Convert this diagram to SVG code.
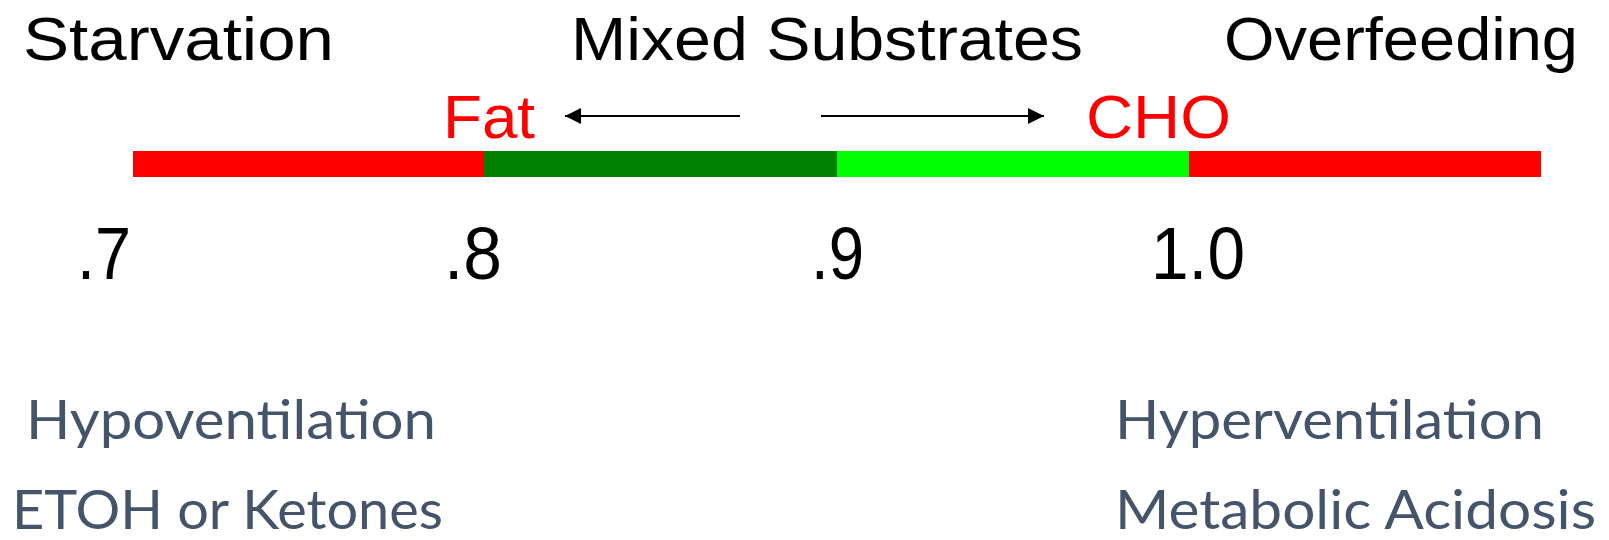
<svg xmlns="http://www.w3.org/2000/svg" width="1609" height="540" viewBox="0 0 1609 540">
<defs>
<style>
.g{font-family:"Liberation Sans",Arial,sans-serif;fill:#000}
.t{font-size:62px}
.r{fill:#FF0000}
.n{font-size:74px}
.c{font-family:Lato,"Open Sans",sans-serif;font-size:54px;fill:#44546A}
.ar{stroke:#000;stroke-width:2;fill:none}
</style>
<marker id="ah" viewBox="0 0 16 16" refX="16" refY="8" markerWidth="16" markerHeight="16" markerUnits="userSpaceOnUse" orient="auto">
<path d="M0,0 L16,8 L0,16 Z" fill="#000"/>
</marker>
</defs>
<rect width="1609" height="540" fill="#fff"/>
<g id="titles">
<text class="g t" x="23" y="60" textLength="311" lengthAdjust="spacingAndGlyphs">Starvation</text>
<text class="g t" x="571" y="60" textLength="512" lengthAdjust="spacingAndGlyphs">Mixed Substrates</text>
<text class="g t" x="1224" y="60" textLength="354" lengthAdjust="spacingAndGlyphs">Overfeeding</text>
</g>
<g id="fat"><text class="g t r" x="443" y="138" textLength="92" lengthAdjust="spacingAndGlyphs">Fat</text></g>
<g id="cho"><text class="g t r" x="1086" y="138" textLength="145" lengthAdjust="spacingAndGlyphs">CHO</text></g>
<g id="connectors">
<line class="ar" x1="740" y1="116" x2="565" y2="116" marker-end="url(#ah)"/>
<line class="ar" x1="821" y1="116" x2="1044" y2="116" marker-end="url(#ah)"/>
</g>
<g id="bar">
<rect x="133" y="151" width="351" height="26" fill="#FF0000"/>
<rect x="484" y="151" width="353" height="26" fill="#008000"/>
<rect x="837" y="151" width="352" height="26" fill="#00FF00"/>
<rect x="1189" y="151" width="352" height="26" fill="#FF0000"/>
</g>
<g id="scale">
<text class="g n" x="77" y="279" textLength="54" lengthAdjust="spacingAndGlyphs">.7</text>
<text class="g n" x="444" y="279" textLength="58" lengthAdjust="spacingAndGlyphs">.8</text>
<text class="g n" x="811" y="279" textLength="53" lengthAdjust="spacingAndGlyphs">.9</text>
<text class="g n" x="1151" y="279" textLength="94" lengthAdjust="spacingAndGlyphs">1.0</text>
</g>
<g id="low">
<text class="c" x="26" y="439" textLength="410" lengthAdjust="spacingAndGlyphs">Hypoventilation</text>
<text class="c" x="12" y="529" textLength="431" lengthAdjust="spacingAndGlyphs">ETOH or Ketones</text>
</g>
<g id="high">
<text class="c" x="1115" y="439" textLength="429" lengthAdjust="spacingAndGlyphs">Hyperventilation</text>
<text class="c" x="1115" y="529" textLength="481" lengthAdjust="spacingAndGlyphs">Metabolic Acidosis</text>
</g>
</svg>
